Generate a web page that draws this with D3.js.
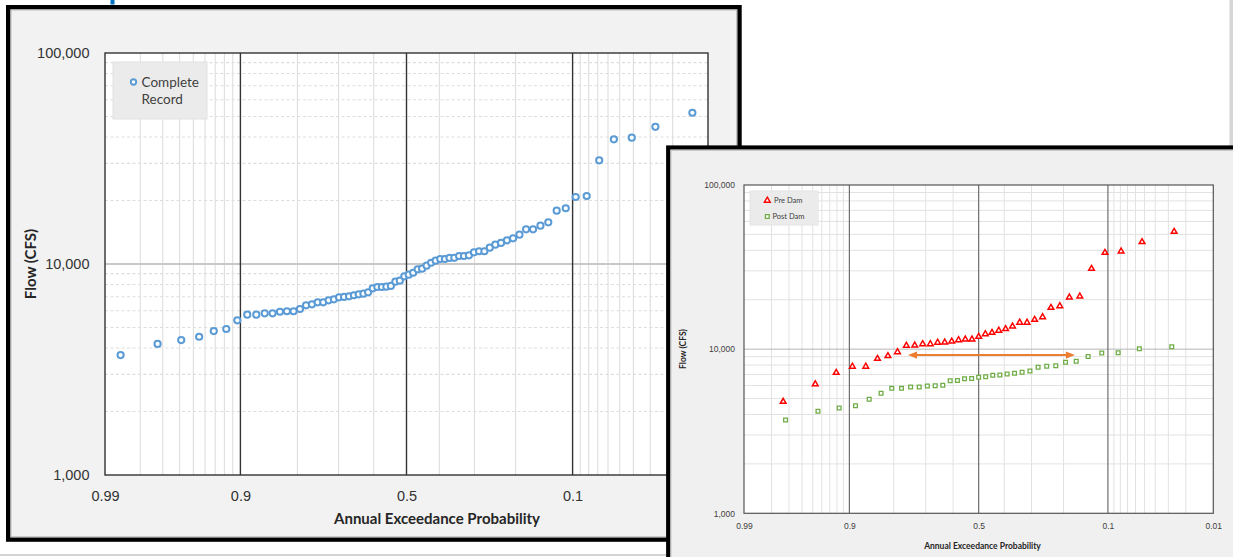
<!DOCTYPE html>
<html>
<head>
<meta charset="utf-8">
<script src="https://cdn.jsdelivr.net/npm/d3@7/dist/d3.min.js"></script>
<style>
  html, body { margin: 0; padding: 0; background: #ffffff; }
  svg { display: block; font-family: Lato, "Open Sans", "Liberation Sans", sans-serif; }
</style>
</head>
<body>
<script>
// ---- Annual peak flows (cfs), sorted from smallest to largest ----
const completeRecord = [
  3700, 4180, 4360, 4520, 4810, 4920, 5410, 5750, 5750, 5840, 5840, 5940,
  5970, 5970, 6120, 6370, 6440, 6580, 6580, 6730, 6800, 6950, 6980, 7030,
  7110, 7180, 7230, 7340, 7670, 7780, 7780, 7810, 7870, 8250, 8340, 8740,
  8900, 9090, 9440, 9500, 9820, 10140, 10370, 10560, 10560, 10690, 10700, 10910,
  10910, 10990, 11360, 11490, 11490, 11950, 12350, 12580, 12950, 13240, 13770, 14600,
  14600, 15190, 15760, 17890, 18370, 20770, 21000, 31000, 39000, 39700, 44700, 52100
];
const preDam = [
  4790, 6130, 7190, 7840, 7840, 8750, 9090, 9610, 10520, 10550, 10750, 10750,
  10980, 11010, 11140, 11370, 11480, 11480, 11910, 12370, 12600, 12990, 13270, 13780,
  14530, 14530, 15110, 15700, 17880, 18320, 20700, 20990, 30900, 38700, 39460, 44970,
  51940
];
const postDam = [
  3700, 4180, 4380, 4520, 4950, 5390, 5770, 5770, 5880, 5880, 5960, 5990,
  6020, 6420, 6440, 6610, 6630, 6750, 6790, 6940, 6960, 7060, 7130, 7230,
  7360, 7760, 7860, 7920, 8330, 8440, 9020, 9480, 9520, 10060, 10350
];

// ---- Axis ticks ----
const probMajor = [0.99, 0.9, 0.5, 0.1, 0.01];
const probMinor = [0.98, 0.97, 0.96, 0.95, 0.94, 0.93, 0.92, 0.91,
                   0.8, 0.7, 0.6, 0.4, 0.3, 0.2,
                   0.09, 0.08, 0.07, 0.06, 0.05, 0.04, 0.03, 0.02];
const flowTicks = [1000, 10000, 100000];
const flowTickLabels = ["1,000", "10,000", "100,000"];

// Shift annotation between pre- and post-dam curves
const shiftProb = [0.758, 0.170];
const shiftFlow = 9200;

// Inverse standard normal CDF (Acklam's rational approximation)
function qnorm(p) {
  const a = [-3.969683028665376e+01, 2.209460984245205e+02, -2.759285104469687e+02,
             1.383577518672690e+02, -3.066479806614716e+01, 2.506628277459239e+00];
  const b = [-5.447609879822406e+01, 1.615858368580409e+02, -1.556989798598866e+02,
             6.680131188771972e+01, -1.328068155288572e+01];
  const c = [-7.784894002430293e-03, -3.223964580411365e-01, -2.400758277161838e+00,
             -2.549732539343734e+00, 4.374664141464968e+00, 2.938163982698783e+00];
  const d = [7.784695709041462e-03, 3.224671290700398e-01, 2.445134137142996e+00,
             3.754408661907416e+00];
  const pl = 0.02425, ph = 1 - pl;
  let q, r;
  if (p < pl) {
    q = Math.sqrt(-2 * Math.log(p));
    return (((((c[0]*q+c[1])*q+c[2])*q+c[3])*q+c[4])*q+c[5]) / ((((d[0]*q+d[1])*q+d[2])*q+d[3])*q+1);
  }
  if (p <= ph) {
    q = p - 0.5; r = q * q;
    return (((((a[0]*r+a[1])*r+a[2])*r+a[3])*r+a[4])*r+a[5])*q / (((((b[0]*r+b[1])*r+b[2])*r+b[3])*r+b[4])*r+1);
  }
  q = Math.sqrt(-2 * Math.log(1 - p));
  return -(((((c[0]*q+c[1])*q+c[2])*q+c[3])*q+c[4])*q+c[5]) / ((((d[0]*q+d[1])*q+d[2])*q+d[3])*q+1);
}

// Weibull plotting position for an ascending-sorted record: rank 1 = largest
function withPositions(values) {
  const n = values.length;
  return values.map((v, i) => ({ flow: v, aep: (n - i) / (n + 1) }));
}

const W = 1233, H = 557;
const svg = d3.select("body").append("svg").attr("width", W).attr("height", H);
svg.append("rect").attr("width", W).attr("height", H).attr("fill", "#ffffff");

// page decorations around the two panels
svg.append("rect").attr("x", 110.5).attr("y", 0).attr("width", 4).attr("height", 4.5).attr("fill", "#0070c0");
svg.append("rect").attr("x", 1229.5).attr("y", 0).attr("width", 3.5).attr("height", 150).attr("fill", "#d6d6d6");
svg.append("rect").attr("x", 0).attr("y", 554).attr("width", 680).attr("height", 2).attr("fill", "#d4d4d4");

function drawPanel(cfg) {
  const g = svg.append("g");
  // chart area
  g.append("rect")
    .attr("x", cfg.frame.x).attr("y", cfg.frame.y)
    .attr("width", cfg.frame.w).attr("height", cfg.frame.h)
    .attr("fill", cfg.bg).attr("stroke", "#000").attr("stroke-width", cfg.frame.sw);
  g.append("rect")
    .attr("x", cfg.frame.x + cfg.frame.sw / 2 + 0.5).attr("y", cfg.frame.y + cfg.frame.sw / 2 + 0.5)
    .attr("width", cfg.frame.w - cfg.frame.sw - 1).attr("height", cfg.frame.h - cfg.frame.sw - 1)
    .attr("fill", "none").attr("stroke", "#b0b0b0").attr("stroke-width", 1);

  const P = cfg.plot;
  const zScale = d3.scaleLinear().domain([qnorm(0.01), qnorm(0.99)]).range([P.x0, P.x1]);
  const px = p => zScale(qnorm(1 - p));
  const y = d3.scaleLog().domain([1000, 100000]).range([P.y1, P.y0]);

  g.append("rect").attr("x", P.x0).attr("y", P.y0)
    .attr("width", P.x1 - P.x0).attr("height", P.y1 - P.y0).attr("fill", "#ffffff");

  // minor probability gridlines
  g.append("g").selectAll("line").data(probMinor).join("line")
    .attr("x1", d => px(d)).attr("x2", d => px(d))
    .attr("y1", P.y0).attr("y2", P.y1)
    .attr("stroke", cfg.minorV).attr("stroke-width", cfg.minorW);

  // minor flow gridlines
  const minorFlows = y.ticks().filter(v => !flowTicks.includes(v));
  g.append("g").selectAll("line").data(minorFlows).join("line")
    .attr("x1", P.x0).attr("x2", P.x1)
    .attr("y1", d => y(d)).attr("y2", d => y(d))
    .attr("stroke", cfg.minorH).attr("stroke-width", cfg.minorW)
    .attr("stroke-dasharray", cfg.minorDash);

  // major flow gridline
  g.append("line").attr("x1", P.x0).attr("x2", P.x1)
    .attr("y1", y(10000)).attr("y2", y(10000))
    .attr("stroke", cfg.midH).attr("stroke-width", cfg.midHW);

  // major probability gridlines
  g.append("g").selectAll("line").data(probMajor.slice(1, -1)).join("line")
    .attr("x1", d => px(d)).attr("x2", d => px(d))
    .attr("y1", P.y0).attr("y2", P.y1)
    .attr("stroke", cfg.majorV).attr("stroke-width", cfg.majorW);

  g.append("rect").attr("x", P.x0).attr("y", P.y0)
    .attr("width", P.x1 - P.x0).attr("height", P.y1 - P.y0)
    .attr("fill", "none").attr("stroke", cfg.border).attr("stroke-width", cfg.majorW);

  // axes (labels only)
  const yAxis = d3.axisLeft(y).tickValues(flowTicks)
    .tickFormat((d, i) => flowTickLabels[i]).tickSize(0).tickPadding(cfg.yPad);
  const ya = g.append("g").attr("transform", `translate(${P.x0},0)`).call(yAxis);
  ya.select(".domain").remove();
  ya.selectAll("text").attr("font-size", cfg.tickFont).attr("fill", cfg.tickColor)
    .attr("font-family", null);

  const xAxis = d3.axisBottom(zScale).tickValues(probMajor.map(p => qnorm(1 - p)))
    .tickFormat((d, i) => String(probMajor[i])).tickSize(0).tickPadding(cfg.xPad);
  const xa = g.append("g").attr("transform", `translate(0,${P.y1})`).call(xAxis);
  xa.select(".domain").remove();
  xa.selectAll("text").attr("font-size", cfg.tickFont).attr("fill", cfg.tickColor)
    .attr("font-family", null);

  g.append("text").attr("x", cfg.xTitle[0]).attr("y", cfg.xTitle[1])
    .attr("text-anchor", "middle").attr("font-size", cfg.titleFont).attr("font-weight", 700)
    .attr("fill", cfg.titleColor).text("Annual Exceedance Probability");
  g.append("text")
    .attr("transform", `translate(${cfg.yTitle[0]},${cfg.yTitle[1]}) rotate(-90)`)
    .attr("text-anchor", "middle").attr("dominant-baseline", "central")
    .attr("font-size", cfg.titleFont).attr("font-weight", 700)
    .attr("fill", cfg.titleColor).text("Flow (CFS)");

  return { g, px, y };
}

// ---------------- Left panel: complete record ----------------
const left = drawPanel({
  frame: { x: 8.2, y: 7.2, w: 731.3, h: 532.4, sw: 4.4 },
  bg: "#f2f2f2",
  plot: { x0: 105, x1: 708, y0: 53, y1: 475 },
  minorV: "#dedede", minorH: "#dddddd", minorW: 1.1, minorDash: "3,2.5",
  midH: "#c8c8c8", midHW: 1.8,
  majorV: "#333333", majorW: 1.4, border: "#333333",
  tickFont: 14.5, tickColor: "#333333", yPad: 15.5, xPad: 15.5,
  titleFont: 15, titleColor: "#262626",
  xTitle: [437, 523.5], yTitle: [30, 264]
});

const leg1 = left.g.append("g");
leg1.append("rect").attr("x", 113).attr("y", 62).attr("width", 94).attr("height", 57)
  .attr("fill", "#ebebeb").attr("stroke", "#e2e2e2");
leg1.append("circle").attr("cx", 133.5).attr("cy", 82).attr("r", 2.7)
  .attr("fill", "#ffffff").attr("stroke", "#5b9bd5").attr("stroke-width", 1.9);
leg1.append("text").attr("x", 141.5).attr("y", 87).attr("font-size", 13.5)
  .attr("fill", "#404040").text("Complete");
leg1.append("text").attr("x", 141.5).attr("y", 104).attr("font-size", 13.5)
  .attr("fill", "#404040").text("Record");

left.g.append("g").selectAll("circle").data(withPositions(completeRecord)).join("circle")
  .attr("cx", d => left.px(d.aep)).attr("cy", d => left.y(d.flow)).attr("r", 3.1)
  .attr("fill", "#ffffff").attr("stroke", "#5b9bd5").attr("stroke-width", 2);

// ---------------- Right panel: pre / post dam ----------------
const right = drawPanel({
  frame: { x: 668.2, y: 147.5, w: 620, h: 460, sw: 4.2 },
  bg: "#f0f0f0",
  plot: { x0: 744, x1: 1213.3, y0: 185, y1: 513.3 },
  minorV: "#e2e2e2", minorH: "#e2e2e2", minorW: 1, minorDash: null,
  midH: "#b5b5b5", midHW: 1,
  majorV: "#6e6e6e", majorW: 1.2, border: "#555555",
  tickFont: 8.5, tickColor: "#404040", yPad: 9, xPad: 9.5,
  titleFont: 8.5, titleColor: "#262626",
  xTitle: [982.5, 549], yTitle: [683, 349]
});

const tri = d3.symbol().type(d3.symbolTriangle).size(14);
const sq = d3.symbol().type(d3.symbolSquare).size(14);

const leg2 = right.g.append("g");
leg2.append("rect").attr("x", 750).attr("y", 191).attr("width", 68).attr("height", 34)
  .attr("fill", "#ebebeb").attr("stroke", "#e4e4e4");
leg2.append("path").attr("d", tri).attr("transform", "translate(767.3,200.5)")
  .attr("fill", "#ffffff").attr("stroke", "#ff0000").attr("stroke-width", 1.5);
leg2.append("text").attr("x", 774).attr("y", 203).attr("font-size", 7.5)
  .attr("fill", "#404040").text("Pre Dam");
leg2.append("path").attr("d", sq).attr("transform", "translate(767.3,216.5)")
  .attr("fill", "#ffffff").attr("stroke", "#70ad47").attr("stroke-width", 1.3);
leg2.append("text").attr("x", 772.5).attr("y", 219.3).attr("font-size", 7.5)
  .attr("fill", "#404040").text("Post Dam");

right.g.append("g").selectAll("path").data(withPositions(preDam)).join("path")
  .attr("d", tri)
  .attr("transform", d => `translate(${right.px(d.aep)},${right.y(d.flow)})`)
  .attr("fill", "#ffffff").attr("stroke", "#ff0000").attr("stroke-width", 1.5);

right.g.append("g").selectAll("path").data(withPositions(postDam)).join("path")
  .attr("d", sq)
  .attr("transform", d => `translate(${right.px(d.aep)},${right.y(d.flow)})`)
  .attr("fill", "#ffffff").attr("stroke", "#70ad47").attr("stroke-width", 1.3);

// double-headed shift arrow
const ax0 = right.px(shiftProb[0]), ax1 = right.px(shiftProb[1]), ay = right.y(shiftFlow);
const headL = 9, headH = 3.6;
const arrow = right.g.append("g").attr("fill", "#ed7d31");
arrow.append("line").attr("x1", ax0 + headL - 1).attr("x2", ax1 - headL + 1)
  .attr("y1", ay).attr("y2", ay).attr("stroke", "#ed7d31").attr("stroke-width", 2);
arrow.append("path").attr("d", `M${ax0},${ay} L${ax0 + headL},${ay - headH} L${ax0 + headL},${ay + headH} Z`);
arrow.append("path").attr("d", `M${ax1},${ay} L${ax1 - headL},${ay - headH} L${ax1 - headL},${ay + headH} Z`);
</script>
</body>
</html>
